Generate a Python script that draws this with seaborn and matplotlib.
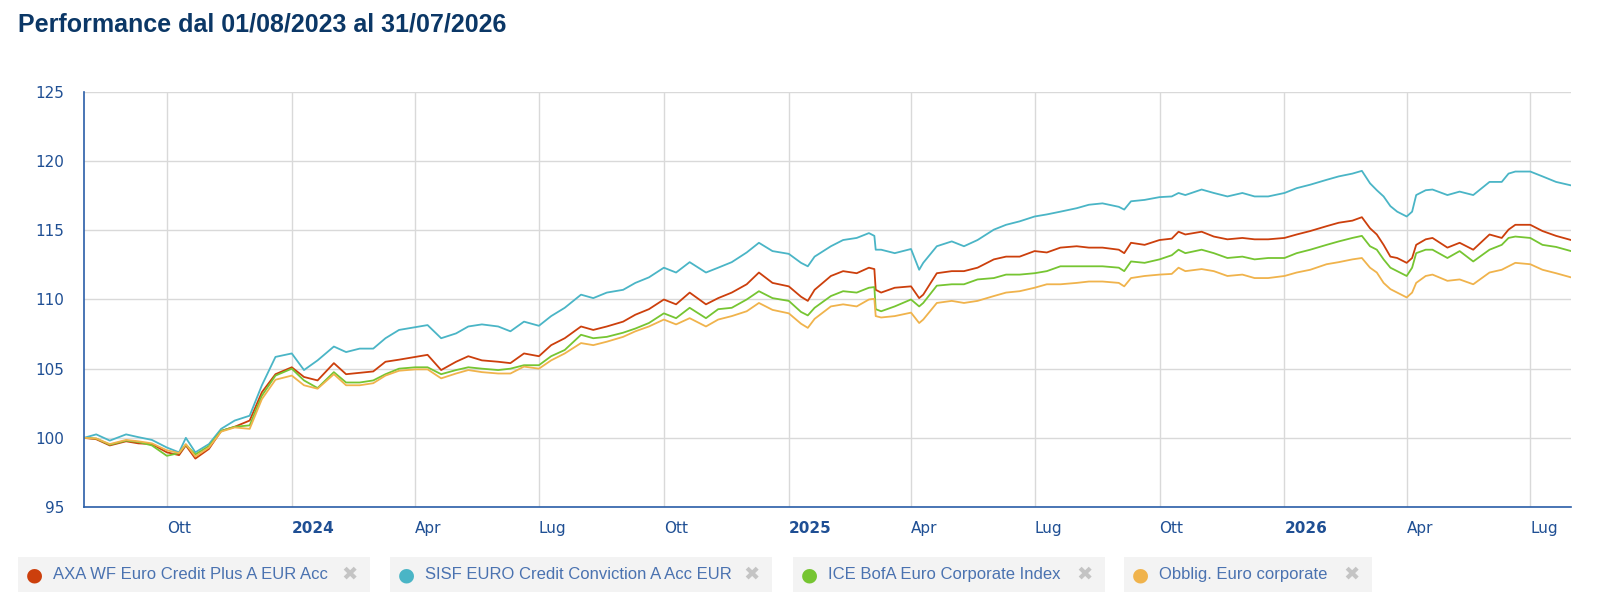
import numpy as np
import pandas as pd
import seaborn as sns
import matplotlib.pyplot as plt
import matplotlib.transforms as mtransforms
from matplotlib.patches import Rectangle

# ─── DATA ─────────────────────────────────────────────
dates = [
    "2023-08-01", "2023-08-10", "2023-08-20", "2023-09-01", "2023-09-10", "2023-09-20",
    "2023-10-01", "2023-10-10", "2023-10-15", "2023-10-22", "2023-11-01", "2023-11-10",
    "2023-11-20", "2023-12-01", "2023-12-10", "2023-12-20", "2024-01-01", "2024-01-10",
    "2024-01-20", "2024-02-01", "2024-02-10", "2024-02-20", "2024-03-01", "2024-03-10",
    "2024-03-20", "2024-04-01", "2024-04-10", "2024-04-20", "2024-05-01", "2024-05-10",
    "2024-05-20", "2024-06-01", "2024-06-10", "2024-06-20", "2024-07-01", "2024-07-10",
    "2024-07-20", "2024-08-01", "2024-08-10", "2024-08-20", "2024-09-01", "2024-09-10",
    "2024-09-20", "2024-10-01", "2024-10-10", "2024-10-20", "2024-11-01", "2024-11-10",
    "2024-11-20", "2024-12-01", "2024-12-10", "2024-12-20", "2025-01-01", "2025-01-10",
    "2025-01-15", "2025-01-20", "2025-02-01", "2025-02-10", "2025-02-20", "2025-03-01",
    "2025-03-05", "2025-03-06", "2025-03-10", "2025-03-20", "2025-04-01", "2025-04-07",
    "2025-04-10", "2025-04-20", "2025-05-01", "2025-05-10", "2025-05-20", "2025-06-01",
    "2025-06-10", "2025-06-20", "2025-07-01", "2025-07-10", "2025-07-20", "2025-08-01",
    "2025-08-10", "2025-08-20", "2025-09-01", "2025-09-05", "2025-09-10", "2025-09-20",
    "2025-10-01", "2025-10-10", "2025-10-15", "2025-10-20", "2025-11-01", "2025-11-10",
    "2025-11-20", "2025-12-01", "2025-12-10", "2025-12-20", "2026-01-01", "2026-01-10",
    "2026-01-20", "2026-02-01", "2026-02-10", "2026-02-20", "2026-02-27", "2026-03-05",
    "2026-03-10", "2026-03-15", "2026-03-20", "2026-03-25", "2026-04-01", "2026-04-05",
    "2026-04-08", "2026-04-15", "2026-04-20", "2026-05-01", "2026-05-10", "2026-05-20",
    "2026-06-01", "2026-06-10", "2026-06-15", "2026-06-20", "2026-07-01", "2026-07-10",
    "2026-07-20", "2026-07-31",
]

axa = [
    100.0, 99.9, 99.45, 99.75, 99.6, 99.55,
    98.95, 98.75, 99.45, 98.5, 99.2, 100.5,
    100.8, 101.25, 103.3, 104.6, 105.1, 104.4,
    104.15, 105.4, 104.6, 104.7, 104.8, 105.5,
    105.65, 105.85, 106.0, 104.9, 105.5, 105.9,
    105.6, 105.5, 105.4, 106.1, 105.9, 106.7,
    107.2, 108.05, 107.8, 108.05, 108.4, 108.9,
    109.3, 110.0, 109.65, 110.5, 109.65, 110.1,
    110.5, 111.1, 111.95, 111.2, 110.95, 110.2,
    109.9, 110.7, 111.7, 112.05, 111.9, 112.3,
    112.2, 110.7, 110.5, 110.85, 110.95, 110.1,
    110.35, 111.9, 112.05, 112.05, 112.3, 112.9,
    113.1, 113.1, 113.5, 113.4, 113.75, 113.85,
    113.75, 113.75, 113.6, 113.35, 114.1, 113.95,
    114.3, 114.4, 114.9, 114.7, 114.9, 114.55,
    114.35, 114.45, 114.35, 114.35, 114.45, 114.7,
    114.95, 115.3, 115.55, 115.7, 115.95, 115.15,
    114.7, 113.95, 113.1, 113.0, 112.65, 113.0,
    113.95, 114.35, 114.45, 113.75, 114.1, 113.6,
    114.7, 114.45, 115.05, 115.4, 115.4, 114.95,
    114.6, 114.3,
]

sisf = [
    100.0, 100.25, 99.8, 100.25, 100.05, 99.85,
    99.3, 98.95, 100.0, 98.95, 99.55, 100.65,
    101.25, 101.6, 103.8, 105.85, 106.1, 104.9,
    105.6, 106.6, 106.2, 106.45, 106.45, 107.2,
    107.8, 108.0, 108.15, 107.2, 107.55, 108.05,
    108.2, 108.05, 107.7, 108.4, 108.1, 108.8,
    109.4, 110.35, 110.1, 110.5, 110.7, 111.2,
    111.6, 112.3, 111.95, 112.7, 111.95, 112.3,
    112.7, 113.4, 114.1, 113.5, 113.3, 112.65,
    112.4, 113.1, 113.85, 114.3, 114.45, 114.8,
    114.6, 113.6, 113.6, 113.35, 113.65, 112.15,
    112.65, 113.85, 114.2, 113.85, 114.3, 115.05,
    115.4, 115.65, 116.0, 116.15, 116.35, 116.6,
    116.85, 116.95, 116.7, 116.5, 117.1, 117.2,
    117.4, 117.45, 117.7, 117.55, 117.95, 117.7,
    117.45, 117.7, 117.45, 117.45, 117.7, 118.05,
    118.3, 118.65, 118.9, 119.1, 119.3, 118.4,
    117.9, 117.45, 116.75, 116.35, 116.0, 116.35,
    117.55, 117.9, 117.95, 117.55, 117.8, 117.55,
    118.5, 118.5, 119.1, 119.25, 119.25, 118.9,
    118.5, 118.25,
]

ice = [
    100.0, 99.95, 99.5, 99.8, 99.7, 99.45,
    98.7, 98.9, 99.5, 98.8, 99.4, 100.5,
    100.8, 100.9, 103.05, 104.5, 105.0, 104.15,
    103.6, 104.75, 104.0, 104.0, 104.15, 104.6,
    105.0, 105.1, 105.1, 104.6, 104.9, 105.1,
    105.0, 104.9, 105.0, 105.25, 105.25, 105.9,
    106.35, 107.45, 107.2, 107.3, 107.6, 107.9,
    108.3, 109.0, 108.65, 109.4, 108.65, 109.3,
    109.4, 110.0, 110.6, 110.1, 109.9, 109.1,
    108.85, 109.4, 110.25, 110.6, 110.5, 110.85,
    110.9, 109.3, 109.15, 109.5, 110.0, 109.5,
    109.75, 111.0, 111.1, 111.1, 111.45, 111.55,
    111.8, 111.8, 111.9, 112.05, 112.4, 112.4,
    112.4, 112.4, 112.3, 112.05, 112.75, 112.65,
    112.9, 113.2, 113.6, 113.35, 113.6, 113.35,
    113.0, 113.1, 112.9, 113.0, 113.0, 113.35,
    113.6, 113.95, 114.2, 114.45, 114.6, 113.85,
    113.6, 112.9, 112.3, 112.05, 111.7, 112.3,
    113.35, 113.6, 113.6, 113.0, 113.5, 112.75,
    113.6, 113.95, 114.45, 114.55, 114.45, 113.95,
    113.8, 113.5,
]

obblig = [
    100.0, 99.95, 99.55, 99.85, 99.75, 99.6,
    99.1, 98.9, 99.55, 98.65, 99.3, 100.45,
    100.75, 100.65, 102.8, 104.2, 104.5, 103.8,
    103.55, 104.6, 103.8, 103.8, 103.95, 104.5,
    104.85, 104.95, 104.95, 104.3, 104.65, 104.9,
    104.75, 104.65, 104.65, 105.15, 105.0, 105.6,
    106.1, 106.85, 106.7, 106.95, 107.3, 107.7,
    108.05, 108.55, 108.2, 108.65, 108.05, 108.55,
    108.8, 109.15, 109.75, 109.25, 109.0, 108.25,
    107.95, 108.6, 109.5, 109.65, 109.5, 110.0,
    110.05, 108.8, 108.7, 108.8, 109.05, 108.3,
    108.55, 109.75, 109.9, 109.75, 109.9, 110.25,
    110.5, 110.6, 110.85, 111.1, 111.1, 111.2,
    111.3, 111.3, 111.2, 110.95, 111.55, 111.7,
    111.8, 111.85, 112.3, 112.05, 112.2, 112.05,
    111.7, 111.8, 111.55, 111.55, 111.7, 111.95,
    112.15, 112.55, 112.7, 112.9, 113.0, 112.3,
    111.95, 111.2, 110.75, 110.5, 110.15, 110.5,
    111.2, 111.7, 111.8, 111.35, 111.45, 111.1,
    111.95, 112.15, 112.4, 112.65, 112.55, 112.15,
    111.9, 111.6,
]

series_names = [
    "AXA WF Euro Credit Plus A EUR Acc",
    "SISF EURO Credit Conviction A Acc EUR",
    "ICE BofA Euro Corporate Index",
    "Obblig. Euro corporate",
]
series_colors = ["#cc3f0c", "#4ab5c6", "#76c532", "#f0b34c"]

tick_dates = ["2023-10-01", "2024-01-01", "2024-04-01", "2024-07-01",
              "2024-10-01", "2025-01-01", "2025-04-01", "2025-07-01",
              "2025-10-01", "2026-01-01", "2026-04-01", "2026-07-01"]
tick_labels = ["Ott", "2024", "Apr", "Lug", "Ott", "2025", "Apr", "Lug",
               "Ott", "2026", "Apr", "Lug"]
y_ticks = [95, 100, 105, 110, 115, 120, 125]

# ─── LONG FORM TABLE ──────────────────────────────────
df = pd.concat([
    pd.DataFrame({"date": pd.to_datetime(dates), "value": vals, "serie": name})
    for name, vals in zip(series_names, [axa, sisf, ice, obblig])
], ignore_index=True)

# ─── PLOT ─────────────────────────────────────────────
sns.set_theme(style="white")
plt.rcParams['font.family'] = ['DejaVu Sans']

AXIS_BLUE = "#2a5ea8"
TEXT_BLUE = "#1f4f94"
W, H = 1600, 605

fig = plt.figure(figsize=(16, 6.05), dpi=100)
ax = fig.add_axes([84 / W, 1 - 507 / H, (1571 - 84) / W, (507 - 92) / H])

sns.lineplot(data=df, x="date", y="value", hue="serie", hue_order=series_names,
             palette=dict(zip(series_names, series_colors)), linewidth=1.3,
             legend=False, ax=ax)

ax.set_xlim(pd.Timestamp("2023-08-01"), pd.Timestamp("2026-07-31"))
ax.set_ylim(95, 125)
ax.set_xlabel("")
ax.set_ylabel("")

ax.set_yticks(y_ticks)
ax.set_yticklabels([str(v) for v in y_ticks], color=TEXT_BLUE, fontsize=11)
ax.set_xticks(pd.to_datetime(tick_dates))
ax.set_xticklabels(tick_labels, color=TEXT_BLUE, fontsize=11)

# labels sit just right of their tick, years in bold
shift = mtransforms.ScaledTranslation(3 / 100, 0, fig.dpi_scale_trans)
for lbl in ax.get_xticklabels():
    lbl.set_horizontalalignment("left")
    lbl.set_transform(lbl.get_transform() + shift)
    if lbl.get_text().isdigit():
        lbl.set_fontweight("bold")

ax.grid(True, color="#d9d9d9", linewidth=1)
ax.set_axisbelow(True)
for side in ["top", "right"]:
    ax.spines[side].set_visible(False)
for side in ["left", "bottom"]:
    ax.spines[side].set_color(AXIS_BLUE)
    ax.spines[side].set_linewidth(1.2)
ax.tick_params(axis="both", which="both", direction="out", length=8, width=1.2,
               color=AXIS_BLUE)
ax.tick_params(axis="y", pad=6)
ax.tick_params(axis="x", pad=2)

# ─── TITLE ────────────────────────────────────────────
fig.text(18 / W, 1 - 25 / H, "Performance dal 01/08/2023 al 31/07/2026",
         fontsize=18, fontweight="bold", color="#0b3766",
         family=["Liberation Sans", "DejaVu Sans"], va="center", ha="left")

# ─── LEGEND (boxed items) ─────────────────────────────
boxes = [(18, 370), (390, 772), (793, 1105), (1124, 1372)]
box_top, box_bot = 557, 592
y_mid = 1 - (box_top + box_bot) / 2 / H
for (x0, x1), name, col in zip(boxes, series_names, series_colors):
    fig.patches.append(Rectangle((x0 / W, 1 - box_bot / H),
                                 (x1 - x0) / W, (box_bot - box_top) / H,
                                 transform=fig.transFigure, facecolor="#f3f3f3",
                                 edgecolor="none", zorder=0))
    fig.text((x0 + 16) / W, y_mid, "●", color=col, fontsize=14,
             va="center", ha="center")
    fig.text((x0 + 35) / W, y_mid, name, color="#4a72b0", fontsize=12,
             family=["Liberation Sans", "DejaVu Sans"], va="center", ha="left")
    fig.text((x1 - 20) / W, y_mid, "✖", color="#c4c4c4", fontsize=14,
             va="center", ha="center")

fig.savefig("out.png", dpi=100, facecolor="white")
